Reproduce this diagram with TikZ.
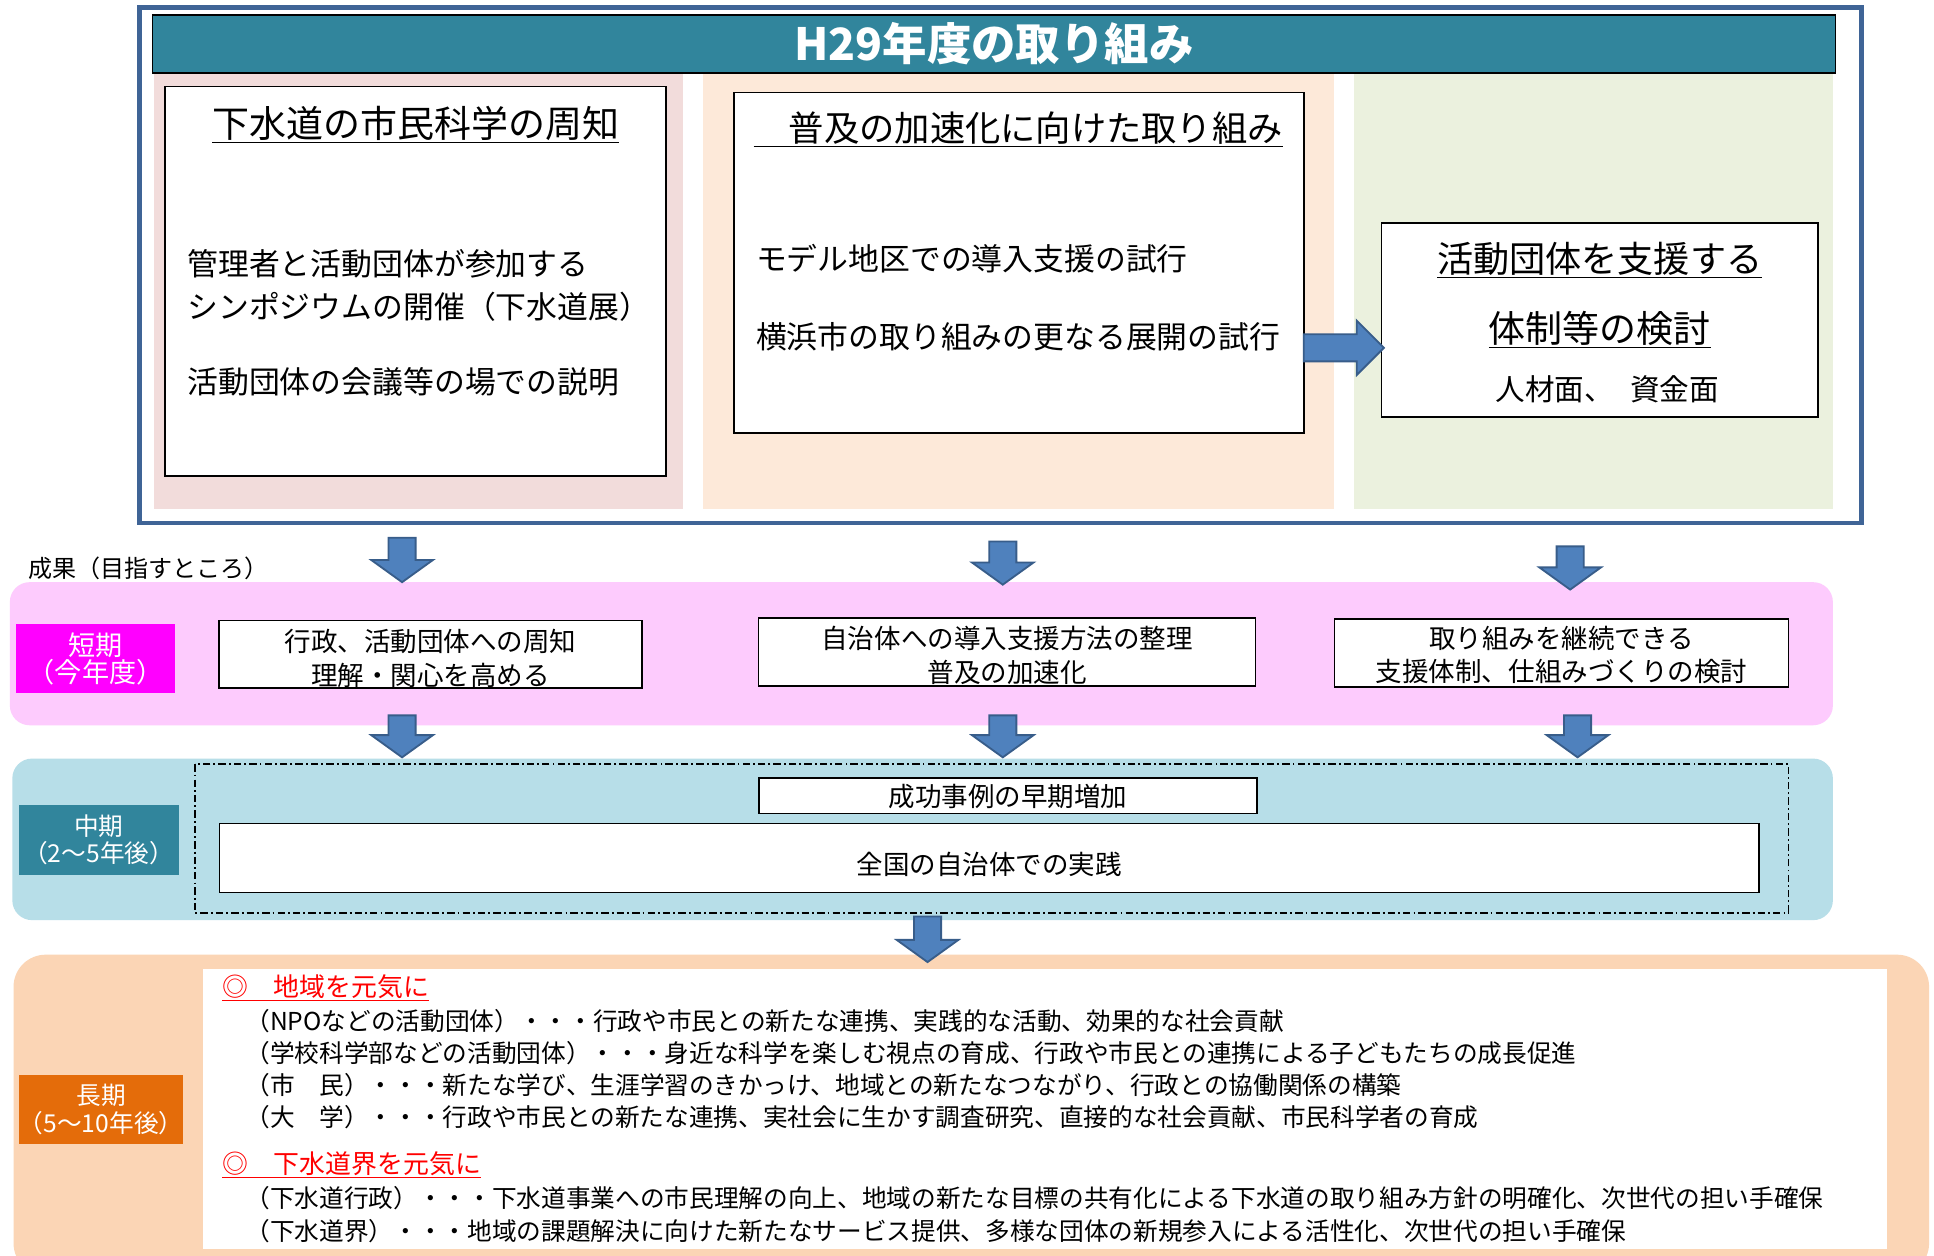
\documentclass[tikz,border=0pt]{standalone}
\usepackage{fontspec}
\setmainfont{Noto Sans CJK JP}
\definecolor{framec}{HTML}{3F6496}
\definecolor{titlec}{HTML}{31859C}
\definecolor{colpink}{HTML}{F2DCDB}
\definecolor{colpeach}{HTML}{FDE9D9}
\definecolor{colgreen}{HTML}{EBF1DE}
\definecolor{arrf}{HTML}{4F81BD}
\definecolor{arrd}{HTML}{385D8A}
\definecolor{bandpink}{HTML}{FDCBFD}
\definecolor{labmag}{HTML}{FF00FF}
\definecolor{bandblue}{HTML}{B7DEE8}
\definecolor{bandorange}{HTML}{FBD5B5}
\definecolor{laborange}{HTML}{E46C0A}
\newcommand\fsz[2]{\fontsize{#1}{#2}\selectfont}
\tikzset{
  arrowst/.style={fill=arrf, draw=arrd, line width=1.5pt, line join=miter},
  pics/downarr/.style={code={\filldraw[arrowst] (-11,0) -- (11,0) -- (11,#1-18) -- (25,#1-18) -- (0,#1) -- (-25,#1-18) -- (-11,#1-18) -- cycle;}},
  box/.style={draw=black, line width=1.3pt, fill=white, inner sep=0},
  txt/.style={inner sep=0, outer sep=0},
  lab/.style={inner sep=0, text=white, align=center, font=\fsz{22}{22}},
  stxt/.style={txt, align=center, font=\fsz{21.5}{27.5}},
  ltxt/.style={txt, anchor=west, font=\fsz{20}{20}},
  rhead/.style={txt, anchor=west, text=red, font=\fsz{21}{21}},
}
\begin{document}
\begin{tikzpicture}[x=1pt,y=-1pt]
\useasboundingbox (0,0) rectangle (1568,1018);
\fill[white] (0,0) rectangle (1568,1018);

% ---------- top frame ----------
\node[draw=framec, line width=4pt, fill=white, inner sep=0, minimum width=1396.5, minimum height=418] (frame) at (811.25,215) {};
\fill[colpink] (124.5,59) rectangle (554,413);
\fill[colpeach] (570,59) rectangle (1081.5,413);
\fill[colgreen] (1097.5,59) rectangle (1486,413);
\node[draw=black, line width=1.2pt, fill=titlec, inner sep=0, minimum width=1364.5, minimum height=47, text=white, font=\fsz{36}{36}\bfseries] (title) at (805.75,35.5) {H29年度の取り組み};

% box 1
\node[box, minimum width=406, minimum height=316] (b1) at (337,228) {};
\node[txt, font=\fsz{30}{30}] (b1t) at (337,101) {\underline{下水道の市民科学の周知}};
\node[txt, anchor=west, font=\fsz{25}{25}] (b1a) at (152,214) {管理者と活動団体が参加する};
\node[txt, anchor=west, font=\fsz{25}{25}] (b1b) at (152,248.5) {シンポジウムの開催（下水道展）};
\node[txt, anchor=west, font=\fsz{25}{25}] (b1c) at (152,309.5) {活動団体の会議等の場での説明};

% box 2
\node[box, minimum width=462, minimum height=276] (b2) at (826,213) {};
\node[txt, anchor=west, font=\fsz{28.6}{28.6}] (b2t) at (611,105) {\underline{　普及の加速化に向けた取り組み}};
\node[txt, anchor=west, font=\fsz{25}{25}] (b2a) at (613,210) {モデル地区での導入支援の試行};
\node[txt, anchor=west, font=\fsz{25}{25}] (b2b) at (613,273) {横浜市の取り組みの更なる展開の試行};

% box 3
\node[box, minimum width=354, minimum height=157] (b3) at (1297,259.5) {};
\node[txt, font=\fsz{29.3}{29.3}] (b3a) at (1297,211) {\underline{活動団体を支援する}};
\node[txt, font=\fsz{30}{30}] (b3b) at (1297,267.5) {\underline{体制等の検討}};
\node[txt, font=\fsz{24}{24}] (b3c) at (1303,316) {人材面、\hspace{0.55em}資金面};

% right block arrow box2 -> box3
\filldraw[arrowst] (1057,271) -- (1100,271) -- (1100,260) -- (1122,282) -- (1100,304) -- (1100,293) -- (1057,293) -- cycle;

% ---------- result caption ----------
\node[txt, anchor=west, font=\fsz{19.5}{19.5}] (cap) at (23,461) {成果（目指すところ）};

% ---------- bands ----------
\fill[bandpink, rounded corners=16] (8,472) rectangle (1486,588);
\fill[bandblue, rounded corners=16] (10,615) rectangle (1486,746);
\fill[bandorange, rounded corners=26] (11,774) rectangle (1564,1034);
\fill[white] (164.5,785.6) rectangle (1530,1012.7);

% short term
\node[fill=labmag, lab, minimum width=129.5, minimum height=56] (lshort) at (77.5,534) {短期\\（今年度）};
\node[box, minimum width=343, minimum height=55] (s1) at (349,530.5) {};
\node[stxt] (s1t) at (349,533.5) {行政、活動団体への周知\\理解・関心を高める};
\node[box, minimum width=403, minimum height=55] (s2) at (816.5,528.5) {};
\node[stxt] (s2t) at (816.5,531) {自治体への導入支援方法の整理\\普及の加速化};
\node[box, minimum width=368, minimum height=55] (s3) at (1266,529.3) {};
\node[stxt] (s3t) at (1266,531) {取り組みを継続できる\\支援体制、仕組みづくりの検討};

% mid term
\draw[line width=1.3pt, dash pattern=on 6pt off 2.5pt on 1.5pt off 2.5pt] (158,619.5) rectangle (1450,740);
\node[fill=titlec, lab, font=\fsz{20}{22}, minimum width=130, minimum height=56] (lmid) at (80,681) {中期\\（2～5年後）};
\node[box, minimum width=403.5, minimum height=28.5] (m1) at (817.3,645.2) {};
\node[txt, font=\fsz{21.5}{21.5}] (m1t) at (817.3,646) {成功事例の早期増加};
\node[box, minimum width=1248, minimum height=56] (m2) at (802,695.7) {};
\node[txt, font=\fsz{21.5}{21.5}] (m2t) at (802,701) {全国の自治体での実践};

% long term
\node[fill=laborange, lab, font=\fsz{20}{22}, minimum width=130.5, minimum height=56] (llong) at (82,899.5) {長期\\（5～10年後）};
\node[rhead] (h1) at (180,801) {\underline{◎　地域を元気に}};
\node[ltxt] (l1) at (199,828) {（NPOなどの活動団体）・・・行政や市民との新たな連携、実践的な活動、効果的な社会貢献};
\node[ltxt] (l2) at (199,854) {（学校科学部などの活動団体）・・・身近な科学を楽しむ視点の育成、行政や市民との連携による子どもたちの成長促進};
\node[ltxt] (l3) at (199,880) {（市　民）・・・新たな学び、生涯学習のきかっけ、地域との新たなつながり、行政との協働関係の構築};
\node[ltxt] (l4) at (199,905.5) {（大　学）・・・行政や市民との新たな連携、実社会に生かす調査研究、直接的な社会貢献、市民科学者の育成};
\node[rhead] (h2) at (180,944.5) {\underline{◎　下水道界を元気に}};
\node[ltxt] (l5) at (199,971.5) {（下水道行政）・・・下水道事業への市民理解の向上、地域の新たな目標の共有化による下水道の取り組み方針の明確化、次世代の担い手確保};
\node[ltxt] (l6) at (199,998.5) {（下水道界）・・・地域の課題解決に向けた新たなサービス提供、多様な団体の新規参入による活性化、次世代の担い手確保};

% ---------- down block arrows ----------
\pic at (326,436) {downarr=36};
\pic at (813,439) {downarr=35};
\pic at (1273,443) {downarr=35};
\pic at (326,580) {downarr=34};
\pic at (813,580) {downarr=34};
\pic at (1279,580) {downarr=34};
\pic at (752,743) {downarr=37};
\end{tikzpicture}
\end{document}
